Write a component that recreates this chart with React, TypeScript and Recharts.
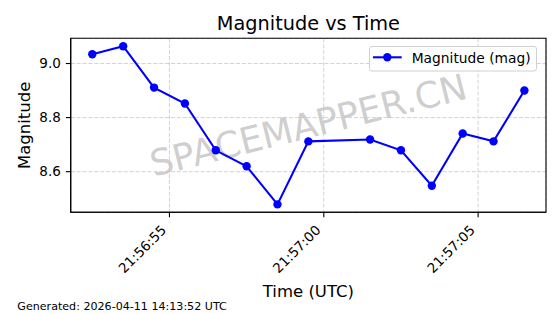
import React from 'react';
import { LineChart, Line, XAxis, YAxis, CartesianGrid, Legend, ReferenceArea } from 'recharts';

const times = [
  '21:56:52.5', '21:56:53.5', '21:56:54.5', '21:56:55.5', '21:56:56.5', '21:56:57.5', '21:56:58.5',
  '21:56:59.5', '21:57:01.5', '21:57:02.5', '21:57:03.5', '21:57:04.5', '21:57:05.5', '21:57:06.5',
];
const magnitudes = [9.034, 9.064, 8.911, 8.852, 8.679, 8.62, 8.479, 8.712, 8.719, 8.679, 8.548, 8.741, 8.712, 8.9];
const xTickLabels = ['21:56:55', '21:57:00', '21:57:05'];
const yTicks = [8.6, 8.8, 9.0];
const seriesName = 'Magnitude (mag)';
const footer = 'Generated: 2026-04-11 14:13:52 UTC';

const toSec = (s: string) => {
  const [h, m, sec] = s.split(':').map(Number);
  return h * 3600 + m * 60 + sec;
};
const base = toSec('21:56:50');
const data = times.map((t, i) => ({ t: toSec(t) - base, mag: magnitudes[i] }));
const xTicks = xTickLabels.map((l) => toSec(l) - base);
const labelFor = (v: number) => {
  const i = xTicks.findIndex((t) => Math.abs(t - v) < 1e-6);
  return i >= 0 ? xTickLabels[i] : '';
};

const pad = (lo: number, hi: number): [number, number] => {
  const r = hi - lo;
  return [lo - 0.05 * r, hi + 0.05 * r];
};
const xs = data.map((d) => d.t);
const xDomain = pad(Math.min(...xs), Math.max(...xs));
const yDomain = pad(Math.min(...magnitudes), Math.max(...magnitudes));

const FONT = 'DejaVu Sans';

const XTick = (props: any) => {
  const { x, y, payload } = props;
  const ax = x - 2.3;
  const ay = y + 13.8;
  return (
    <text
      x={ax}
      y={ay}
      transform={`rotate(-45, ${ax}, ${ay})`}
      textAnchor="end"
      fontSize={13.5}
      fontFamily={FONT}
      fill="#000"
    >
      {labelFor(payload.value)}
    </text>
  );
};

const LegendBox = () => (
  <svg width={168} height={26} style={{ display: 'block' }}>
    <rect x={0.5} y={0.5} width={167} height={24.5} rx={2.5} fill="#fff" fillOpacity={0.8} stroke="#d0d0d0" />
    <line x1={4} y1={11.3} x2={32.7} y2={11.3} stroke="blue" strokeWidth={2.1} />
    <circle cx={18.3} cy={11.3} r={4.2} fill="blue" />
    <text x={42.7} y={16.7} fontSize={13.8} fontFamily={FONT} fill="#000">
      {seriesName}
    </text>
  </svg>
);

export default function App() {
  return (
    <div style={{ position: 'absolute', left: 0, top: 0, width: 560, height: 314, background: '#fff', fontFamily: FONT }}>
      <svg width={560} height={314} style={{ position: 'absolute', left: 0, top: 0 }}>
        <text
          x={308.4}
          y={125.3}
          transform="rotate(-14, 308.4, 125.3)"
          textAnchor="middle"
          dominantBaseline="central"
          fontSize={36.2}
          fontFamily={FONT}
          fill="#808080"
          fillOpacity={0.4}
        >
          SPACEMAPPER.CN
        </text>
      </svg>
      <div style={{ position: 'absolute', left: 0, top: 0 }}>
        <LineChart
          width={560}
          height={314}
          data={data}
          margin={{ top: 38.3, right: 14, bottom: 41.7, left: 10.7 }}
        >
          <CartesianGrid stroke="#c8c8c8" strokeWidth={0.8} strokeDasharray="4.1 1.8" />
          <XAxis
            dataKey="t"
            type="number"
            domain={xDomain}
            ticks={xTicks}
            allowDataOverflow
            height={60}
            interval={0}
            tick={<XTick />}
            tickSize={4.9}
            tickMargin={0}
            axisLine={{ stroke: '#000', strokeWidth: 1.1 }}
            tickLine={{ stroke: '#000', strokeWidth: 1.1 }}
          />
          <YAxis
            type="number"
            domain={yDomain}
            ticks={yTicks}
            allowDataOverflow
            width={60}
            interval={0}
            tickFormatter={(v: number) => v.toFixed(1)}
            tick={{ fontSize: 13.5, fontFamily: FONT, fill: '#000' }}
            tickSize={4.9}
            tickMargin={5}
            axisLine={{ stroke: '#000', strokeWidth: 1.1 }}
            tickLine={{ stroke: '#000', strokeWidth: 1.1 }}
          />
          <ReferenceArea
            x1={xDomain[0]}
            x2={xDomain[1]}
            y1={yDomain[0]}
            y2={yDomain[1]}
            fill="none"
            fillOpacity={0}
            stroke="#000"
            strokeWidth={1.1}
            ifOverflow="visible"
          />
          <Legend
            layout="horizontal"
            verticalAlign="middle"
            align="center"
            wrapperStyle={{ left: 369, top: 46, width: 168, height: 26 }}
            content={<LegendBox />}
          />
          <Line
            type="linear"
            dataKey="mag"
            name={seriesName}
            stroke="blue"
            strokeWidth={2.1}
            dot={{ r: 4.2, fill: 'blue', stroke: 'blue', strokeWidth: 0 }}
            activeDot={false}
            isAnimationActive={false}
          />
        </LineChart>
      </div>
      <svg width={560} height={314} style={{ position: 'absolute', left: 0, top: 0, pointerEvents: 'none' }}>
        <text x={308.4} y={30} textAnchor="middle" fontSize={19.3} fontFamily={FONT} fill="#000">
          Magnitude vs Time
        </text>
        <text x={308.4} y={296.5} textAnchor="middle" fontSize={16.5} fontFamily={FONT} fill="#000">
          Time (UTC)
        </text>
        <text
          x={30}
          y={125.3}
          transform="rotate(-90, 30, 125.3)"
          textAnchor="middle"
          fontSize={16.5}
          fontFamily={FONT}
          fill="#000"
        >
          Magnitude
        </text>
        <text x={17.3} y={309.5} fontSize={11.1} fontFamily={FONT} fill="#000">
          {footer}
        </text>
      </svg>
    </div>
  );
}
